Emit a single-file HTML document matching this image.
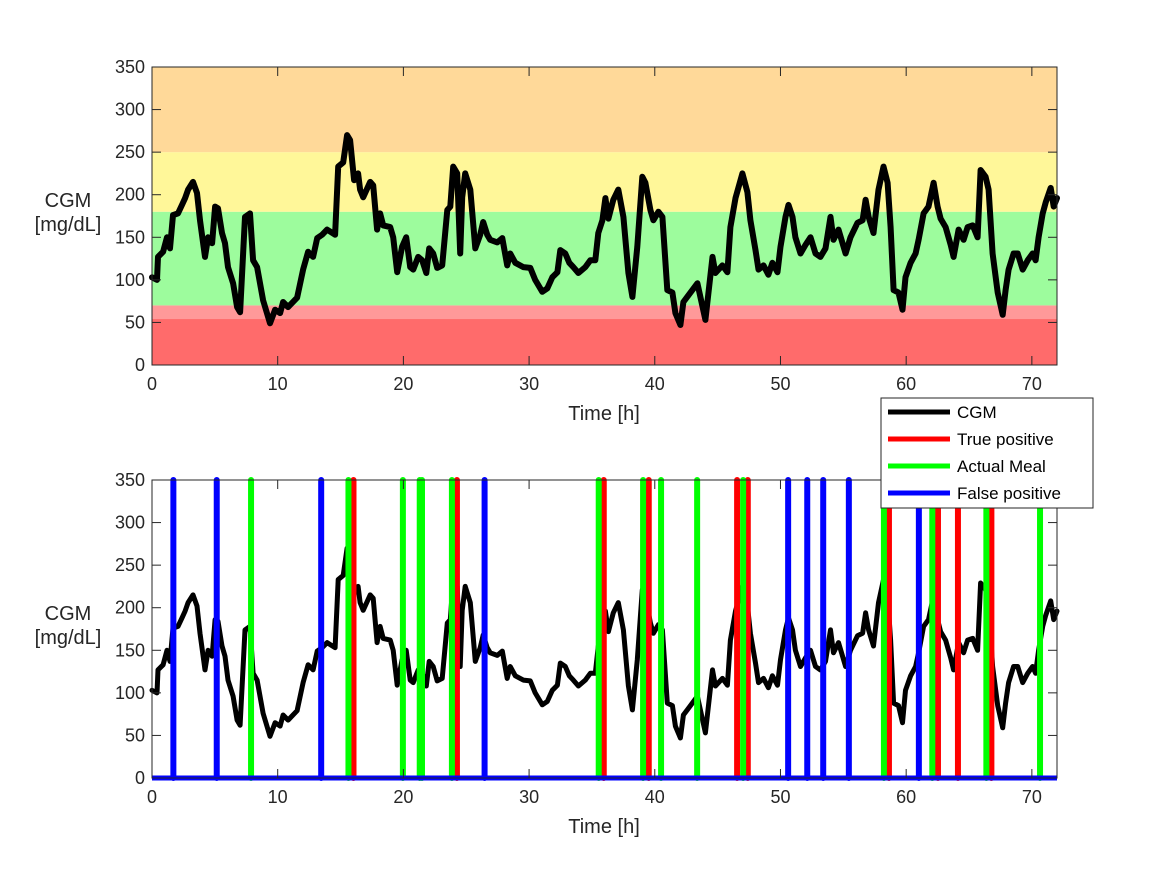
<!DOCTYPE html>
<html><head><meta charset="utf-8"><style>
body{margin:0;background:#fff}
svg{display:block;font-family:"Liberation Sans",Arial,sans-serif}
</style></head><body>
<svg id="chart" width="1167" height="875"></svg>
<script>
const times=[0,0.4,0.48,0.88,1.19,1.43,1.67,2.07,2.39,2.63,2.87,3.26,3.58,3.82,4.22,4.46,4.78,5.02,5.25,5.57,5.81,6.05,6.45,6.77,7.01,7.40,7.80,8.04,8.36,8.84,9.39,9.79,10.19,10.43,10.83,11.54,12.02,12.42,12.82,13.14,13.54,13.93,14.57,14.81,15.21,15.52,15.76,16.08,16.40,16.56,16.80,17.36,17.60,17.91,18.15,18.39,18.95,19.19,19.51,19.90,20.22,20.54,20.78,21.18,21.50,21.82,22.05,22.37,22.69,23.09,23.49,23.73,23.96,24.28,24.52,24.68,24.92,25.32,25.72,26.11,26.35,26.67,26.91,27.47,27.87,28.26,28.50,28.90,29.54,30.10,30.49,31.05,31.45,31.85,32.25,32.48,32.88,33.20,33.52,33.92,34.47,34.87,35.27,35.51,35.83,36.07,36.31,36.70,37.10,37.50,37.90,38.22,38.61,39.01,39.25,39.65,39.89,40.29,40.61,41.00,41.40,41.64,42.04,42.28,42.68,43.39,44.03,44.59,44.82,45.38,45.78,46.02,46.42,46.97,47.37,47.61,48.01,48.25,48.65,49.04,49.36,49.76,50.00,50.40,50.64,50.96,51.19,51.59,51.99,52.39,52.79,53.18,53.58,53.98,54.22,54.62,55.18,55.57,56.13,56.53,56.77,57.01,57.40,57.80,58.20,58.52,58.76,59.00,59.39,59.71,59.95,60.35,60.75,60.99,61.39,61.78,62.18,62.50,62.74,63.14,63.54,63.77,64.17,64.57,64.89,65.29,65.68,65.92,66.32,66.56,66.88,67.28,67.68,67.91,68.15,68.55,68.87,69.27,69.67,70.06,70.30,70.54,70.86,71.10,71.50,71.74,72];
const cgm=[103,100,127,133,150,137,176,178,188,196,206,215,202,170,127,150,143,186,184,155,143,115,96,68,62,174,178,123,115,76,49,65,61,74,68,79,112,133,127,149,153,159,153,233,238,270,264,217,225,206,197,215,211,159,178,164,162,150,109,139,150,115,112,127,123,108,137,131,114,117,182,186,233,225,131,197,225,206,137,153,168,153,147,144,149,117,131,120,115,114,100,86,90,103,109,135,131,120,115,108,115,123,123,155,170,196,172,194,206,174,108,80,139,221,214,182,170,180,174,88,85,61,47,74,82,96,53,127,108,117,109,162,196,225,203,170,135,112,117,106,120,109,139,174,188,174,150,131,141,150,131,127,137,174,147,159,131,150,167,170,194,174,155,206,233,214,162,88,85,65,103,120,131,147,178,186,214,186,172,162,141,127,159,147,162,164,150,229,221,206,131,85,59,88,112,131,131,112,123,131,123,150,178,191,208,186,196];
const truePos=[16.03,24.26,35.94,39.52,46.55,47.40,58.63,62.53,64.12,66.78];
const actualMeal=[7.88,15.63,19.96,21.30,21.48,23.86,35.54,39.07,40.5,43.37,47.03,58.23,62.08,66.38,70.65];
const falsePos=[1.70,5.15,13.46,26.46,50.61,52.13,53.40,55.44,61.01];
const bandLo=[0,54,70,180,250];
const bandHi=[54,70,180,250,350];
const bandColors=['#ff6b6b','#ff9999','#9dfc9d','#fff799','#ffd999'];
const xTicks=[0,10,20,30,40,50,60,70];
const yTicks=[0,50,100,150,200,250,300,350];

const NS='http://www.w3.org/2000/svg';
const svg=document.getElementById('chart');
function el(tag,attrs,parent){const e=document.createElementNS(NS,tag);for(const k in attrs)e.setAttribute(k,attrs[k]);(parent||svg).appendChild(e);return e;}
const X0=152,X1=1057;
function xs(t){return X0+(X1-X0)*t/72;}
function mkY(bottom,top){return v=>bottom-(bottom-top)*v/350;}

function axes(g,ys,bottom,top,name){
  const frame=el('rect',{x:X0,y:top,width:X1-X0,height:bottom-top,fill:'none',stroke:'#262626','stroke-width':1},g);
  
  
  xTicks.forEach(t=>{
    const x=xs(t);
    el('line',{x1:x,x2:x,y1:bottom,y2:bottom-9,stroke:'#262626'},g);
    el('line',{x1:x,x2:x,y1:top,y2:top+9,stroke:'#262626'},g);
    const tx=el('text',{x:x,y:bottom+25,'text-anchor':'middle','font-size':18,fill:'#262626'},g);
    tx.textContent=t;
    
    
  });
  yTicks.forEach(v=>{
    const y=ys(v);
    el('line',{x1:X0,x2:X0+9,y1:y,y2:y,stroke:'#262626'},g);
    el('line',{x1:X1,x2:X1-9,y1:y,y2:y,stroke:'#262626'},g);
    const tx=el('text',{x:X0-7,y:y+6,'text-anchor':'end','font-size':18,fill:'#262626'},g);
    tx.textContent=v;
    
    
  });
  const xl=el('text',{x:604,y:bottom+55,'text-anchor':'middle','font-size':20,fill:'#262626'},g);
  xl.textContent='Time [h]';
  
  
  const cy=(top+bottom)/2;
  const yl=el('text',{x:68,y:cy-9,'text-anchor':'middle','font-size':20,fill:'#262626'},g);
  
  
  const a=el('tspan',{x:68,dy:0},yl);a.textContent='CGM';
  const b=el('tspan',{x:68,dy:24},yl);b.textContent='[mg/dL]';
}
function cgmPath(ys,w,g){
  const d=times.map((t,i)=>(i?'L':'M')+xs(t).toFixed(1)+','+ys(cgm[i]).toFixed(1)).join('');
  const p=el('path',{d:d,fill:'none',stroke:'#000','stroke-width':w,'stroke-linejoin':'round','stroke-linecap':'round'},g);
  
  
}

// top plot
const g1=el('g',{});


const y1=mkY(365,67);
bandLo.forEach((lo,i)=>{
  const r=el('rect',{x:X0,y:y1(bandHi[i]),width:X1-X0,height:y1(lo)-y1(bandHi[i]),fill:bandColors[i]},g1);
  
  
});
cgmPath(y1,6,g1);
axes(g1,y1,365,67,'top');

// bottom plot
const g2=el('g',{});


const y2=mkY(778,480);
cgmPath(y2,5,g2);
function bars(arr,color,name){
  arr.forEach(t=>{
    const l=el('line',{x1:xs(t),x2:xs(t),y1:y2(0),y2:y2(350),stroke:color,'stroke-width':6,'stroke-linecap':'round'},g2);
    
    
  });
}
bars(truePos,'#ff0000','true-positive-marker');
bars(actualMeal,'#00ff00','actual-meal-marker');
bars(falsePos,'#0000ff','false-positive-marker');
const base=el('line',{x1:X0,x2:X1,y1:y2(0),y2:y2(0),stroke:'#0000ff','stroke-width':5},g2);


axes(g2,y2,778,480,'bottom');

// legend
const lg=el('g',{});


el('rect',{x:881,y:398,width:212,height:110,fill:'#fff',stroke:'#262626','stroke-width':1},lg);
const legNames=['CGM','True positive','Actual Meal','False positive'];
const legColors=['#000','#ff0000','#00ff00','#0000ff'];
legNames.forEach((n,i)=>{
  const y=412+i*27;
  const ln=el('line',{x1:888,x2:950,y1:y,y2:y,stroke:legColors[i],'stroke-width':5},lg);
  
  
  const t=el('text',{x:957,y:y+6,'font-size':17,fill:'#000'},lg);
  t.textContent=n;
  
  
});
</script>
</body></html>
